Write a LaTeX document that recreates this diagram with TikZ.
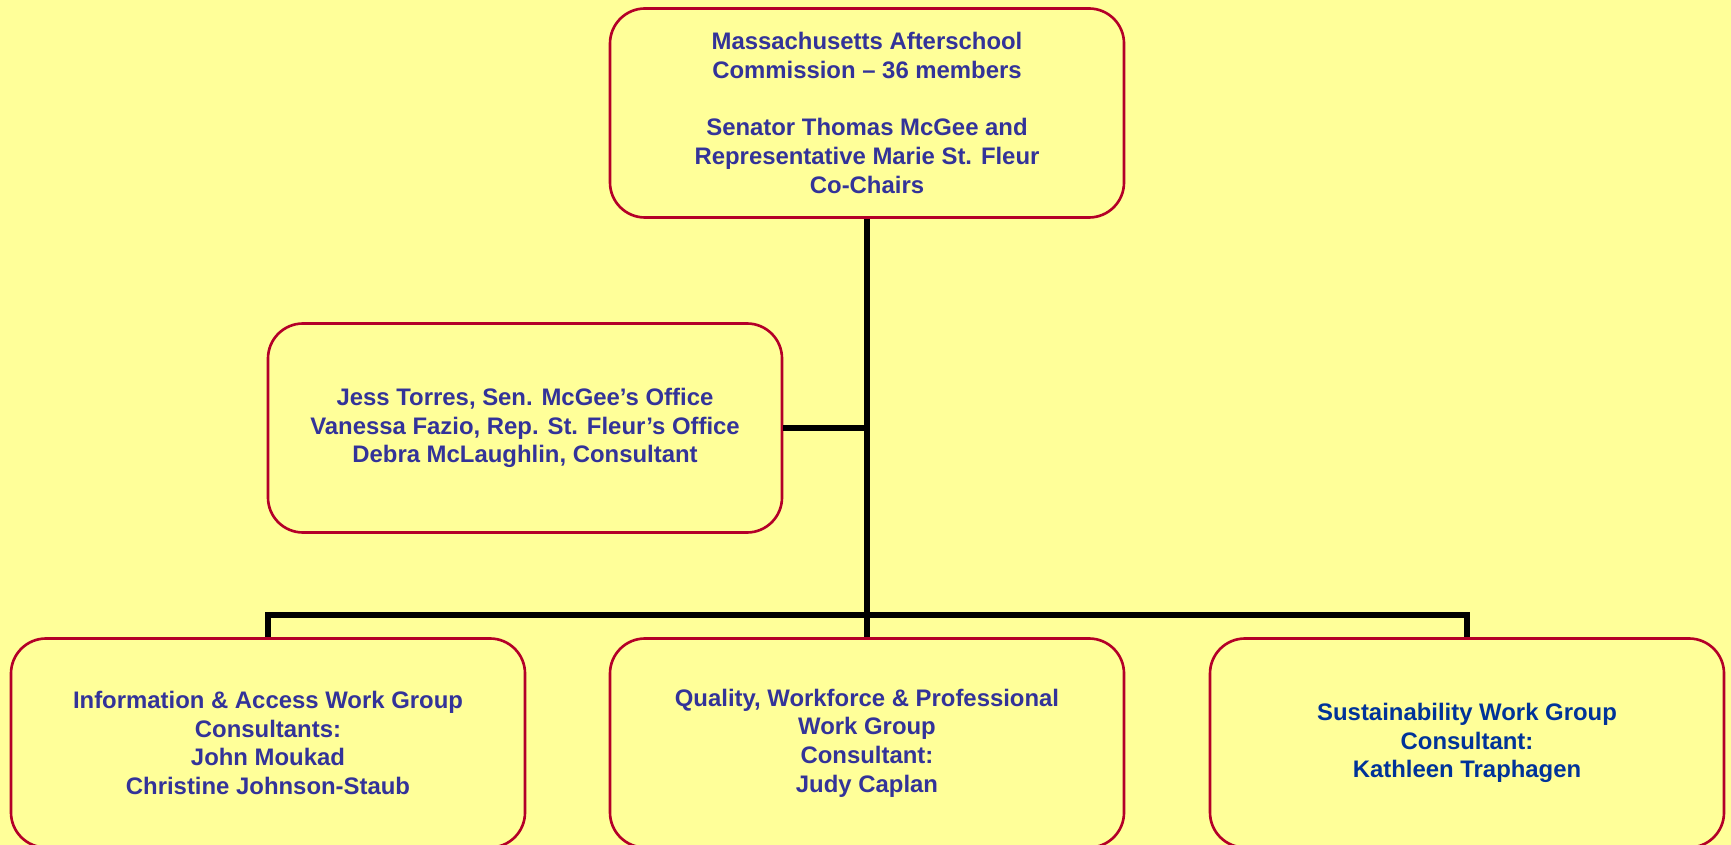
\documentclass[tikz,border=0pt]{standalone}
\usepackage{fontspec}
\setmainfont{Liberation Sans}
\usepackage{xcolor}
\usepackage{tikz}
\usetikzlibrary{positioning, calc}
\definecolor{chartbg}{RGB}{255,255,153}
\definecolor{chartborder}{RGB}{180,0,40}
\definecolor{charttext}{RGB}{51,51,153}
\definecolor{sustext}{RGB}{0,51,153}

\begin{document}
\begin{tikzpicture}[
    box/.style={rectangle,draw=chartborder,fill=chartbg,minimum width=10.28cm,minimum height=4.18cm,rounded corners=0.7cm,line width=1.5pt,align=center,text=charttext,font=\fontsize{13.6}{16.3}\selectfont\bfseries},
    link/.style={line width=3.4pt,black}
]
    % sfondo
    \useasboundingbox (0,0) rectangle (34.62,-16.9);
    \fill[chartbg] (0,0) rectangle (34.62,-16.9);

    % Commissione
    \node[box] (comm) at (17.34,-2.26) {Massachusetts Afterschool\\ Commission – 36 members\\[16.3pt] Senator Thomas McGee and\\ Representative Marie St. Fleur\\ Co-Chairs};

    % Staff
    \node[box] (staff) at (10.5,-8.56) {Jess Torres, Sen. McGee’s Office\\ Vanessa Fazio, Rep. St. Fleur’s Office\\ Debra McLaughlin, Consultant};

    % Gruppi di lavoro
    \node[box] (info) at (5.36,-14.86) {Information \& Access Work Group\\ Consultants:\\ John Moukad\\ Christine Johnson-Staub};
    \node[box] (quality) at (17.34,-14.86) {Quality, Workforce \& Professional\\ Work Group\\ Consultant:\\ Judy Caplan};
    \node[box,text=sustext] (sust) at (29.34,-14.86) {Sustainability Work Group\\ Consultant:\\ Kathleen Traphagen};

    % Connessioni
    \coordinate (bus) at (17.34,-12.3);
    \draw[link] (comm) -- (quality);
    \draw[link] (staff.east) -- (staff.east -| comm.south);
    \draw[link] (info.north) |- (bus) -| (sust.north);
\end{tikzpicture}
\end{document}
